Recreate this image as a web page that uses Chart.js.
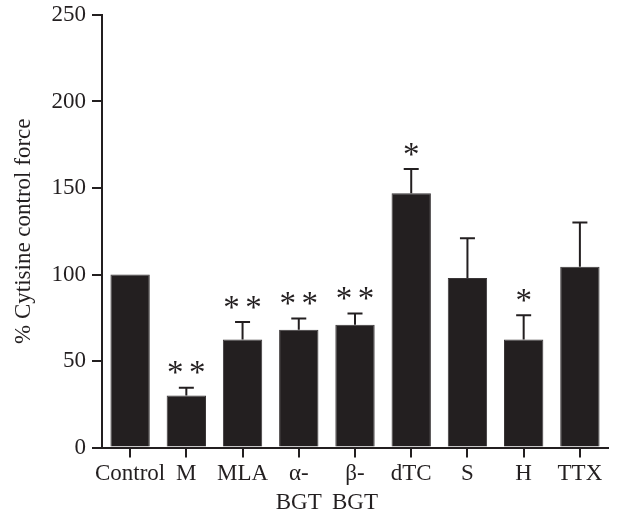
<!DOCTYPE html>
<html>
<head>
<meta charset="utf-8">
<style>
  html, body { margin: 0; padding: 0; background: #ffffff; }
  canvas { display: block; }
</style>
<script src="https://cdn.jsdelivr.net/npm/chart.js@4.4.1/dist/chart.umd.min.js"></script>
</head>
<body>
<canvas id="chart" width="618" height="513"></canvas>
<script>
// Treatment groups along the x axis
const categories = ['Control', 'M', 'MLA', ['\u03b1-', 'BGT'], ['\u03b2-', 'BGT'], 'dTC', 'S', 'H', 'TTX'];
// Mean force, % of cytisine control
const meanForce = [100, 30, 62.5, 68, 71, 147, 98, 62.5, 104.5];
// Standard error (drawn upward only)
const semForce = [0, 4.5, 10, 6.5, 6.5, 14, 23, 14, 25.5];
// Significance markers
const significance = ['', '**', '**', '**', '**', '*', '', '*', ''];
// Y axis ticks
const yTicks = [0, 50, 100, 150, 200, 250];

const INK = '#231f20';
const SERIF = '"Liberation Serif", "Times New Roman", serif';

const errorBarPlugin = {
  id: 'errorBars',
  afterDatasetsDraw(chart) {
    const ctx = chart.ctx;
    const yScale = chart.scales.y;
    const meta = chart.getDatasetMeta(0);
    ctx.save();
    ctx.strokeStyle = INK;
    ctx.fillStyle = INK;
    ctx.lineWidth = 2;
    meta.data.forEach((bar, i) => {
      const x = bar.x;
      const yBar = yScale.getPixelForValue(meanForce[i]);
      const yErr = yScale.getPixelForValue(meanForce[i] + semForce[i]);
      if (semForce[i] > 0) {
        ctx.beginPath();
        ctx.moveTo(x, yBar);
        ctx.lineTo(x, yErr);
        ctx.moveTo(x - 7.5, yErr);
        ctx.lineTo(x + 7.5, yErr);
        ctx.stroke();
      }
      const marks = significance[i];
      if (marks) {
        ctx.font = '33px ' + SERIF;
        ctx.textAlign = 'center';
        ctx.textBaseline = 'middle';
        const yMark = yErr - 13;
        if (marks.length === 2) {
          ctx.fillText('*', x - 11, yMark);
          ctx.fillText('*', x + 11, yMark);
        } else {
          ctx.fillText('*', x, yMark);
        }
      }
    });
    ctx.restore();
  }
};

new Chart(document.getElementById('chart'), {
  type: 'bar',
  data: {
    labels: categories,
    datasets: [{
      data: meanForce,
      backgroundColor: INK,
      borderColor: '#3a3637',
      borderWidth: 1,
      barPercentage: 0.7,
      categoryPercentage: 1.0
    }]
  },
  options: {
    responsive: false,
    animation: false,
    devicePixelRatio: 1,
    layout: { padding: { top: 15, right: 10, left: 0, bottom: 0 } },
    plugins: {
      legend: { display: false },
      tooltip: { enabled: false }
    },
    scales: {
      x: {
        afterFit(scale) {
          scale.height = 65.5;
          scale.paddingLeft = 0;
          scale.paddingRight = 0;
        },
        grid: {
          display: true,
          drawOnChartArea: false,
          drawTicks: true,
          tickLength: 10,
          offset: false,
          color: INK,
          lineWidth: 2
        },
        border: { display: true, color: INK, width: 2 },
        ticks: {
          color: INK,
          font: { family: SERIF, size: 23, lineHeight: 1.25 },
          padding: 2,
          maxRotation: 0,
          autoSkip: false
        }
      },
      y: {
        min: 0,
        max: 250,
        afterFit(scale) {
          scale.width = 102;
          scale.paddingTop = 0;
          scale.paddingBottom = 0;
        },
        afterBuildTicks(scale) { scale.ticks = yTicks.map(v => ({ value: v })); },
        grid: {
          display: true,
          drawOnChartArea: false,
          drawTicks: true,
          tickLength: 10,
          color: INK,
          lineWidth: 2
        },
        border: { display: true, color: INK, width: 2 },
        ticks: {
          color: INK,
          font: { family: SERIF, size: 23 },
          padding: 6
        },
        title: {
          display: true,
          text: '% Cytisine control force',
          color: INK,
          font: { family: SERIF, size: 23 },
          padding: { top: 10, bottom: 0 }
        }
      }
    }
  },
  plugins: [errorBarPlugin]
});
</script>
</body>
</html>
